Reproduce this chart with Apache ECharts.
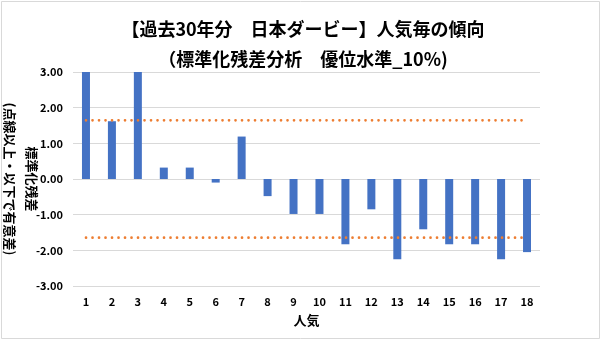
<!DOCTYPE html>
<html>
<head>
<meta charset="utf-8">
<script src="https://cdn.jsdelivr.net/npm/echarts@6/dist/echarts.min.js"></script>
<style>
  html, body { margin: 0; padding: 0; background: #fff; }
  #chart { width: 606px; height: 341px; }
</style>
</head>
<body>
<div id="chart"></div>
<script>
// 人気順 (1〜18番人気)
const popularity = ['1','2','3','4','5','6','7','8','9','10','11','12','13','14','15','16','17','18'];
// 各人気の標準化残差
const residuals = [3.00, 1.62, 3.00, 0.32, 0.32, -0.10, 1.19, -0.48, -0.98, -0.98,
                   -1.83, -0.85, -2.25, -1.41, -1.83, -1.83, -2.25, -2.05];
// 有意水準10%の境界値 (上側・下側)
const upperBound = [1.645, 1.645, 1.645, 1.645, 1.645, 1.645, 1.645, 1.645, 1.645,
                    1.645, 1.645, 1.645, 1.645, 1.645, 1.645, 1.645, 1.645, 1.645];
const lowerBound = [-1.645, -1.645, -1.645, -1.645, -1.645, -1.645, -1.645, -1.645, -1.645,
                    -1.645, -1.645, -1.645, -1.645, -1.645, -1.645, -1.645, -1.645, -1.645];

const FONT = '"Noto Sans CJK JP", "Noto Sans", sans-serif';
const chart = echarts.init(document.getElementById('chart'), null, { renderer: 'canvas' });

const dotted = {
  color: '#ED7D31',
  width: 2.6,
  type: [0.1, 6.4],
  cap: 'round'
};

chart.setOption({
  backgroundColor: '#fff',
  animation: false,
  textStyle: { fontFamily: FONT },
  title: {
    text: '【過去30年分　日本ダービー】人気毎の傾向\n（標準化残差分析　優位水準_10%)',
    left: 'center',
    top: 9,
    textStyle: {
      fontFamily: FONT,
      fontSize: 18,
      fontWeight: 'bold',
      color: '#000',
      lineHeight: 30
    }
  },
  graphic: [{
    type: 'rect',
    shape: { x: 1.5, y: 1.5, width: 598, height: 337 },
    style: { fill: 'none', stroke: '#d9d9d9', lineWidth: 1 },
    silent: true
  }],
  grid: { left: 73, right: 66, top: 72, bottom: 55, outerBoundsMode: 'none', containLabel: false },
  xAxis: {
    type: 'category',
    data: popularity,
    name: '人気',
    nameLocation: 'middle',
    nameGap: 28,
    nameMoveOverlap: false,
    nameTextStyle: { fontFamily: FONT, fontSize: 13, fontWeight: 'bold', color: '#000' },
    axisLine: { show: false },
    axisTick: { show: false },
    axisLabel: { fontFamily: FONT, fontSize: 11, fontWeight: 'bold', color: '#000', margin: 10 }
  },
  yAxis: {
    type: 'value',
    min: -3,
    max: 3,
    interval: 1,
    name: '標準化残差\n(点線以上・以下で有意差)',
    nameLocation: 'middle',
    nameRotate: -90,
    nameGap: 30,
    nameMoveOverlap: false,
    nameTextStyle: { fontFamily: FONT, fontSize: 13, fontWeight: 'bold', color: '#000', lineHeight: 22 },
    axisLine: { show: false },
    axisTick: { show: false },
    splitLine: { lineStyle: { color: '#d9d9d9', width: 1 } },
    axisLabel: {
      fontFamily: FONT, fontSize: 11, fontWeight: 'bold', color: '#000', margin: 10,
      formatter: v => v.toFixed(2)
    }
  },
  series: [
    {
      type: 'bar',
      data: residuals,
      barWidth: 8,
      itemStyle: { color: '#4472C4' },
      z: 2
    },
    {
      type: 'line',
      data: upperBound,
      symbol: 'none',
      lineStyle: dotted,
      z: 3
    },
    {
      type: 'line',
      data: lowerBound,
      symbol: 'none',
      lineStyle: dotted,
      z: 3
    }
  ]
});
</script>
</body>
</html>
